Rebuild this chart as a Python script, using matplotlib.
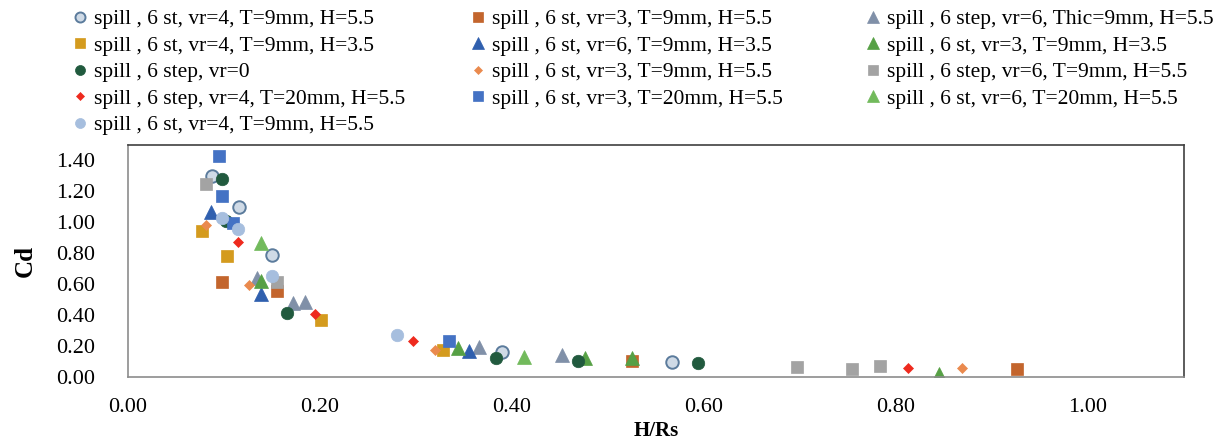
import matplotlib
matplotlib.use("Agg")
import matplotlib.pyplot as plt

plt.rcParams['font.family'] = ['Liberation Serif', 'DejaVu Serif']

# ---------------- data ----------------
labels = [
    "spill , 6 st, vr=4, T=9mm, H=5.5",
    "spill , 6 st, vr=3, T=9mm, H=5.5",
    "spill , 6 step, vr=6, Thic=9mm, H=5.5",
    "spill , 6 st, vr=4, T=9mm, H=3.5",
    "spill , 6 st, vr=6, T=9mm, H=3.5",
    "spill , 6 st, vr=3, T=9mm, H=3.5",
    "spill , 6 step, vr=0",
    "spill , 6 st, vr=3, T=9mm, H=5.5",
    "spill , 6 step, vr=6, T=9mm, H=5.5",
    "spill , 6 step, vr=4, T=20mm, H=5.5",
    "spill , 6 st, vr=3, T=20mm, H=5.5",
    "spill , 6 st, vr=6, T=20mm, H=5.5",
    "spill , 6 st, vr=4, T=9mm, H=5.5",
]

s1_x = [0.087, 0.116, 0.150, 0.390, 0.567]
s1_y = [1.30, 1.10, 0.788, 0.16, 0.10]
s2_x = [0.098, 0.155, 0.525, 0.926]
s2_y = [0.617, 0.555, 0.105, 0.05]
s3_x = [0.134, 0.172, 0.184, 0.366, 0.452]
s3_y = [0.64, 0.48, 0.484, 0.197, 0.143]
s4_x = [0.077, 0.103, 0.201, 0.328]
s4_y = [0.946, 0.78, 0.371, 0.176]
s5_x = [0.086, 0.139, 0.355]
s5_y = [1.065, 0.538, 0.165]
s6_x = [0.139, 0.344, 0.476, 0.525, 0.845]
s6_y = [0.62, 0.187, 0.12, 0.12, 0.018]
s7_x = [0.098, 0.102, 0.166, 0.383, 0.469, 0.594]
s7_y = [1.28, 1.01, 0.417, 0.12, 0.106, 0.09]
s8_x = [0.081, 0.126, 0.320, 0.869]
s8_y = [0.98, 0.594, 0.176, 0.055]
s9_x = [0.081, 0.155, 0.697, 0.754, 0.783]
s9_y = [1.245, 0.614, 0.065, 0.05, 0.07]
s10_x = [0.115, 0.195, 0.297, 0.812]
s10_y = [0.87, 0.41, 0.234, 0.055]
s11_x = [0.095, 0.098, 0.109, 0.334]
s11_y = [1.43, 1.17, 0.996, 0.23]
s12_x = [0.139, 0.412]
s12_y = [0.866, 0.128]
s13_x = [0.098, 0.115, 0.150, 0.280]
s13_y = [1.03, 0.955, 0.65, 0.271]

xs = [s1_x, s2_x, s3_x, s4_x, s5_x, s6_x, s7_x, s8_x, s9_x, s10_x, s11_x, s12_x, s13_x]
ys = [s1_y, s2_y, s3_y, s4_y, s5_y, s6_y, s7_y, s8_y, s9_y, s10_y, s11_y, s12_y, s13_y]

x_ticks = [0.0, 0.2, 0.4, 0.6, 0.8, 1.0]
y_ticks = [0.0, 0.2, 0.4, 0.6, 0.8, 1.0, 1.2, 1.4]

# ---------------- styles ----------------
styles = [
    dict(marker='o', ms=9, mfc='#CFDAE6', mec='#5B7B9C', mew=1.4),
    dict(marker='s', ms=9, mfc='#C3652D', mec='#C3652D', mew=0.5),
    dict(marker='^', ms=10, mfc='#8090A8', mec='#8090A8', mew=0.5),
    dict(marker='s', ms=9, mfc='#D49B1E', mec='#D49B1E', mew=0.5),
    dict(marker='^', ms=10, mfc='#2F5FAE', mec='#2F5FAE', mew=0.5),
    dict(marker='^', ms=10, mfc='#56A045', mec='#56A045', mew=0.5),
    dict(marker='o', ms=9, mfc='#215A3E', mec='#215A3E', mew=0.5),
    dict(marker='D', ms=5.5, mfc='#EA8A4E', mec='#EA8A4E', mew=0.5),
    dict(marker='s', ms=9, mfc='#A3A3A3', mec='#A3A3A3', mew=0.5),
    dict(marker='D', ms=5.5, mfc='#EE2A1E', mec='#EE2A1E', mew=0.5),
    dict(marker='s', ms=9, mfc='#4472C4', mec='#4472C4', mew=0.5),
    dict(marker='^', ms=10, mfc='#72BA5C', mec='#72BA5C', mew=0.5),
    dict(marker='o', ms=9, mfc='#A6BEDE', mec='#A6BEDE', mew=0.5),
]

fig = plt.figure(figsize=(12.28, 4.43), dpi=100)
ax = fig.add_axes([128/1228, 1-377/443, (1184-128)/1228, (377-145)/443])

handles = []
for x, y, st, lab in zip(xs, ys, styles, labels):
    h, = ax.plot(x, y, linestyle='none', label=lab, **st)
    handles.append(h)

ax.set_xlim(0, 1.1)
ax.set_ylim(0, 1.5)
ax.set_xticks(x_ticks)
ax.set_yticks(y_ticks)
ax.set_xticklabels([f"{v:.2f}" for v in x_ticks])
ax.set_yticklabels([f"{v:.2f}" for v in y_ticks])
ax.tick_params(axis='both', length=0, labelsize=16)
ax.tick_params(axis='x', pad=15)
ax.tick_params(axis='y', pad=24)

for side in ['top', 'right']:
    ax.spines[side].set_color('#404040')
    ax.spines[side].set_linewidth(1.2)
for side in ['left', 'bottom']:
    ax.spines[side].set_color('#8C8C8C')
    ax.spines[side].set_linewidth(1.2)

ax.set_ylabel('Cd', fontsize=18, fontweight='bold')
ax.yaxis.set_label_coords(-0.086, 0.5)
ax.set_xlabel('H/Rs', fontsize=15, fontweight='bold')
ax.xaxis.set_label_coords(0.5, -0.19)

# legend: three columns placed separately (row-major order like the original)
col_idx = [[0, 3, 6, 9, 12], [1, 4, 7, 10], [2, 5, 8, 11]]
col_x = [72, 470, 865]
for idx, cx in zip(col_idx, col_x):
    fig.legend([handles[i] for i in idx], [labels[i] for i in idx],
               loc='upper left', bbox_to_anchor=(cx/1228, 1-9/443),
               frameon=False, fontsize=15.5, markerscale=0.8,
               handlelength=0.75, handletextpad=0.25, labelspacing=0.3,
               borderpad=0, borderaxespad=0)

fig.savefig('out.png', dpi=100)
